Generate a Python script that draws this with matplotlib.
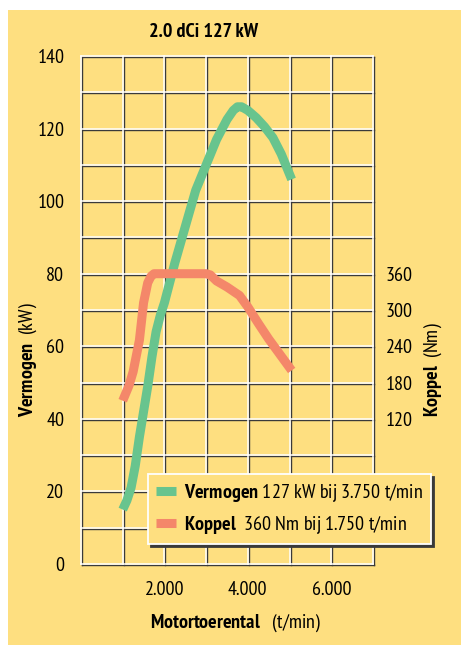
import matplotlib
matplotlib.use("Agg")
import matplotlib.pyplot as plt
from matplotlib import font_manager as fm
from matplotlib.patches import Rectangle
from matplotlib.lines import Line2D
from matplotlib.transforms import offset_copy

# ---- data ----
rpm_power = [1000, 1100, 1200, 1300, 1400, 1500, 1600, 1700, 1800, 1900, 2000, 2250, 2450, 2750,
             3000, 3250, 3500, 3650, 3750, 3850, 4000, 4200, 4400, 4600, 4800, 5050]
power_kw = [15, 17.5, 21, 27, 35, 42, 49, 57, 64, 68.5, 72, 83, 91, 103,
            110, 117, 122.5, 125, 126, 126, 125, 123, 120.5, 117.5, 113, 106]

rpm_torque = [1000, 1150, 1250, 1400, 1500, 1600, 1680, 1750, 3000, 3100, 3250, 3500, 3800, 4000, 4250, 4500, 5050]
torque_nm = [150, 175, 198, 250, 312, 345, 356, 360, 360, 358, 348, 338, 324, 305, 278, 252, 200]

x_ticks = [2000, 4000, 6000]
x_ticklabels = ["2.000", "4.000", "6.000"]
y_ticks = [0, 20, 40, 60, 80, 100, 120, 140]
y2_ticks = [120, 180, 240, 300, 360]

title = "2.0 dCi 127 kW"

available = {f.name for f in fm.fontManager.ttflist}
FONT = next((n for n in ["PT Sans Narrow", "Archivo Narrow", "Liberation Sans Narrow",
                         "Encode Sans Condensed", "DejaVu Sans"] if n in available), "DejaVu Sans")
plt.rcParams['font.family'] = [FONT, 'DejaVu Sans']
plt.rcParams['mathtext.fontset'] = 'custom'
plt.rcParams['mathtext.rm'] = FONT
plt.rcParams['mathtext.bf'] = FONT + ':bold'

legend_power = r"$\bf{Vermogen}$ 127 kW bij 3.750 t/min"
legend_torque = r"$\bf{Koppel}$  360 Nm bij 1.750 t/min"

YELLOW = "#fedf80"
GREEN = "#68c48e"
ORANGE = "#f4876a"
DARK = "#3a3a3a"
FS = 14.5

W, H = 461, 645
fig = plt.figure(figsize=(W / 100, H / 100), dpi=100, facecolor="white")
fig.patches.append(Rectangle((8 / W, 0), 1 - 8 / W, 1 - 10 / H, transform=fig.transFigure,
                             facecolor=YELLOW, edgecolor="none", zorder=-10))

ax = fig.add_axes([81 / W, 1 - 564 / H, (373 - 81) / W, (564 - 56) / H])
ax.patch.set_alpha(0)
ax.set_xlim(0, 7000)
ax.set_ylim(0, 140)
for s in ax.spines.values():
    s.set_visible(False)

shadow_tr = offset_copy(ax.transData, fig=fig, x=1, y=-1, units="dots")
for xv in range(0, 7001, 1000):
    ax.plot([xv, xv], [0, 140], color=DARK, lw=1.0, transform=shadow_tr, zorder=1, clip_on=False)
    ax.plot([xv, xv], [0, 140], color="white", lw=1.1, zorder=2, clip_on=False)
for yv in range(0, 141, 10):
    ax.plot([0, 7000], [yv, yv], color=DARK, lw=1.0, transform=shadow_tr, zorder=1, clip_on=False)
    ax.plot([0, 7000], [yv, yv], color="white", lw=1.1, zorder=2, clip_on=False)

ax.set_xticks(x_ticks)
ax.set_xticklabels(x_ticklabels)
ax.set_yticks(y_ticks)
ax.tick_params(axis="both", length=0, labelsize=FS)
ax.tick_params(axis="x", pad=12)
ax.tick_params(axis="y", pad=12)

ax2 = ax.twinx()
ax2.set_ylim(-120, 720)
for s in ax2.spines.values():
    s.set_visible(False)
ax2.set_yticks(y2_ticks)
ax2.tick_params(axis="y", length=0, labelsize=FS, pad=9)

ax.plot(rpm_power, power_kw, color=GREEN, lw=6.5, solid_capstyle="butt", solid_joinstyle="round", zorder=5)
ax2.plot(rpm_torque, torque_nm, color=ORANGE, lw=6.5, solid_capstyle="butt", solid_joinstyle="round", zorder=5)

handles = [Line2D([], [], color=GREEN, lw=6.5, solid_capstyle="butt"),
           Line2D([], [], color=ORANGE, lw=6.5, solid_capstyle="butt")]
leg = ax2.legend(handles, [legend_power, legend_torque], loc="upper left",
                 bbox_to_anchor=(148 / W, 1 - 474 / H), bbox_transform=fig.transFigure,
                 fontsize=FS, frameon=True, fancybox=False, handlelength=1.0,
                 handletextpad=0.4, borderpad=0.4, labelspacing=0.5, borderaxespad=0,
                 shadow={"color": DARK, "alpha": 1})
leg.set_zorder(10)
fr = leg.get_frame()
fr.set_facecolor(YELLOW)
fr.set_edgecolor("white")
fr.set_linewidth(1.3)
fr.set_alpha(1)

fig.text(204 / W, 1 - 32 / H, title, ha="center", va="center", fontsize=FS, fontweight="bold")
fig.text(235 / W, 1 - 623 / H, r"$\bf{Motortoerental}$   (t/min)", ha="center", va="center", fontsize=FS)
fig.text(28 / W, 1 - 360 / H, r"$\bf{Vermogen}$  (kW)", ha="center", va="center", rotation=90, fontsize=FS)
fig.text(433 / W, 1 - 370 / H, r"$\bf{Koppel}$  (Nm)", ha="center", va="center", rotation=90, fontsize=FS)

fig.savefig("out.png", dpi=100, facecolor="white")
